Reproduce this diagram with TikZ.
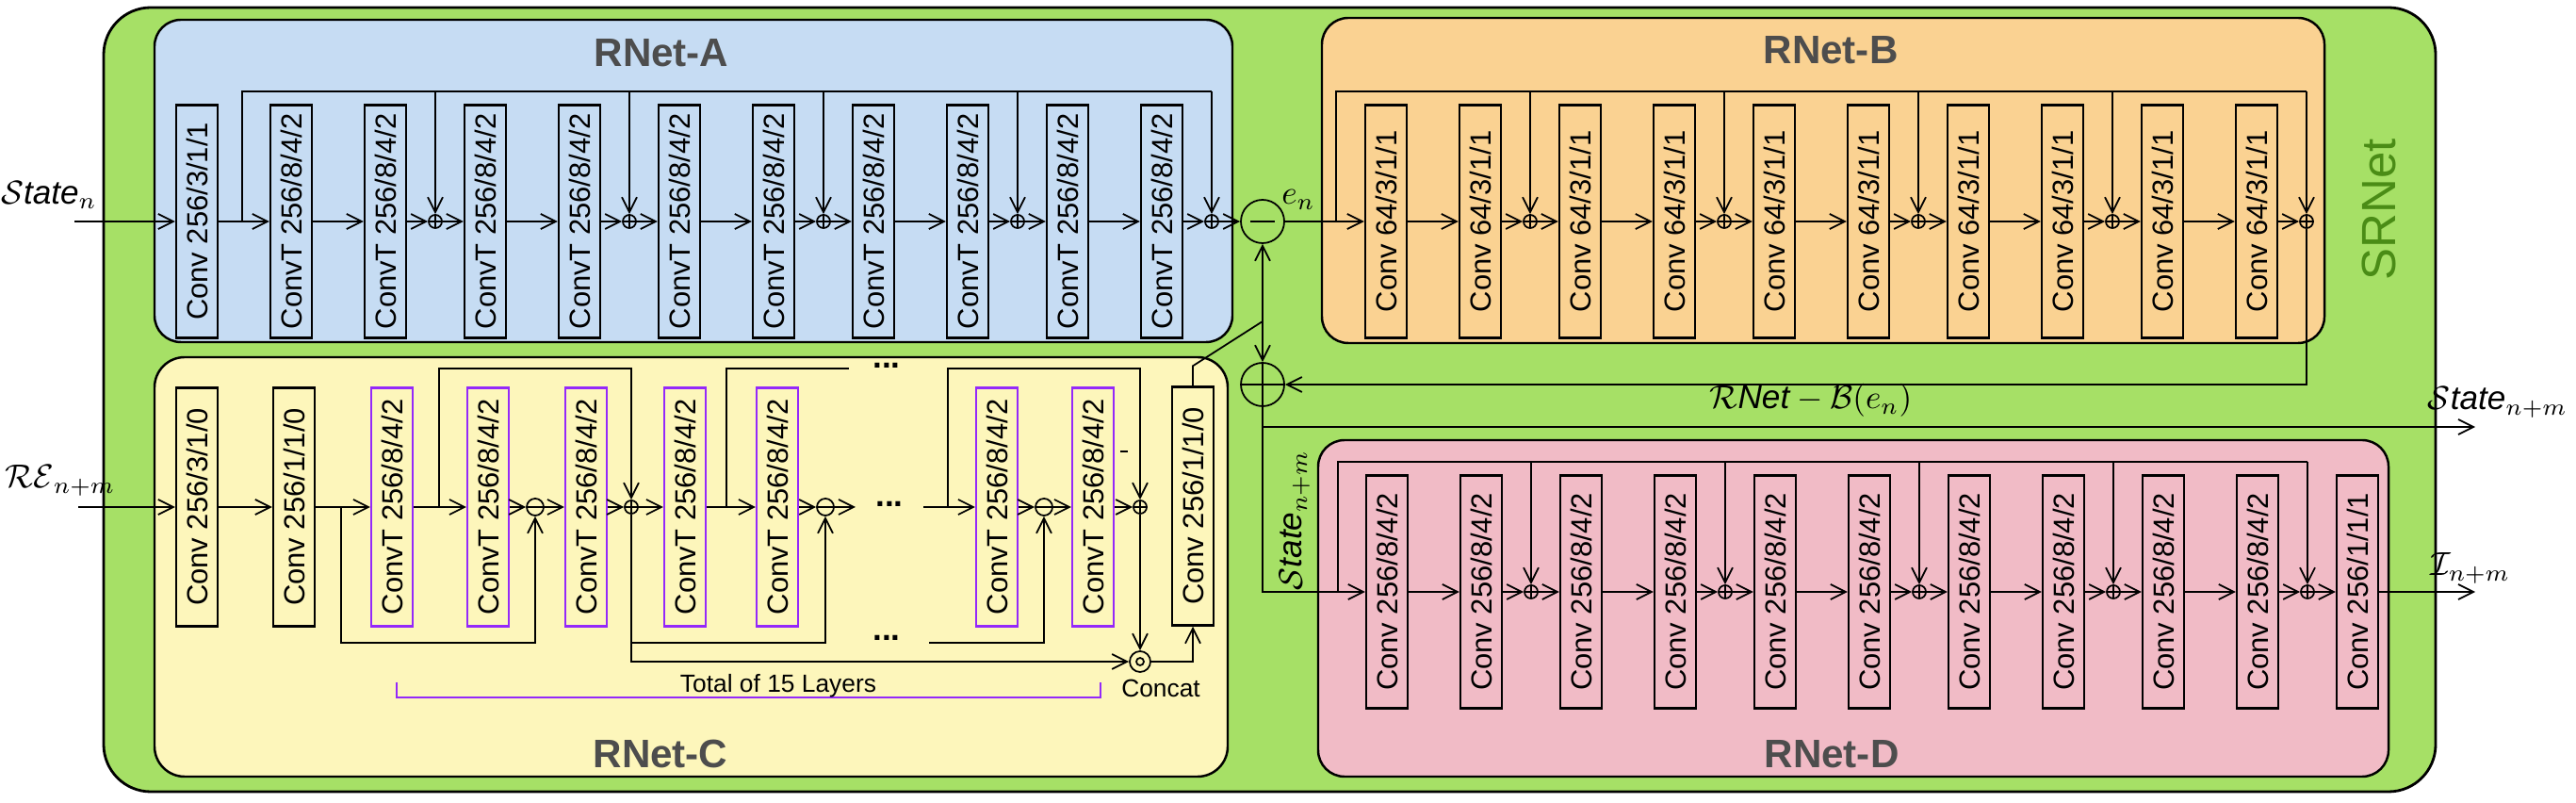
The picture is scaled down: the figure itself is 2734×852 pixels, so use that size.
\documentclass[tikz,border=0pt]{standalone}
\usepackage{fontspec}
\setmainfont{Liberation Sans}
\usetikzlibrary{arrows.meta}
\definecolor{srnetgreen}{RGB}{166,224,102}
\definecolor{srnetlabel}{RGB}{74,140,22}
\definecolor{rnetablue}{RGB}{198,220,243}
\definecolor{rnetborange}{RGB}{250,210,146}
\definecolor{rnetcyellow}{RGB}{253,246,187}
\definecolor{rnetdpink}{RGB}{241,187,198}
\definecolor{titlegray}{RGB}{77,77,77}
\definecolor{convtpurple}{RGB}{148,40,250}

\tikzset{
  convbox/.style={draw, line width=0.7pt, rotate=90, minimum width=24.7mm, minimum height=4.4mm, inner sep=0pt, font=\fontsize{8.8}{10}\selectfont},
  convtbox/.style={convbox, draw=convtpurple, line width=0.6pt, minimum width=25.3mm},
  addop/.style={circle, draw, minimum size=1.4mm, inner sep=0pt, path picture={\draw (path picture bounding box.north) -- (path picture bounding box.south) (path picture bounding box.west) -- (path picture bounding box.east);}},
  subop/.style={circle, draw, minimum size=1.8mm, inner sep=0pt, path picture={\draw (path picture bounding box.west) -- (path picture bounding box.east);}},
  catop/.style={circle, draw, minimum size=2.2mm, inner sep=0pt, path picture={\draw (path picture bounding box.center) circle (0.4mm);}},
  bigsubop/.style={circle, draw, minimum size=4.6mm, inner sep=0pt, path picture={\draw ([xshift=-1.3mm]path picture bounding box.center) -- ([xshift=1.3mm]path picture bounding box.center);}},
  bigaddop/.style={addop, minimum size=4.6mm},
  paneltitle/.style={text=titlegray, font=\fontsize{12}{14}\selectfont\bfseries},
  mathlabel/.style={font=\fontsize{10}{12}\selectfont, inner sep=0pt},
  ellipsisdots/.style={font=\fontsize{10}{12}\selectfont\bfseries, inner sep=0pt},
  smalltext/.style={font=\fontsize{7.5}{9}\selectfont, inner sep=0pt},
}

\begin{document}
\begin{tikzpicture}[x=0.1mm, y=-0.1mm, >={Straight Barb[length=1.6mm,width=1.6mm]}, line width=0.5pt]
  \useasboundingbox (0,0) rectangle (2734,852);

  % SRNet frame
  \draw[fill=srnetgreen, line width=0.8pt, rounded corners=5mm] (110,8) rectangle (2585,840);
  \node[rotate=90, text=srnetlabel, font=\fontsize{14.5}{16}\selectfont] (srnet) at (2525,222) {SRNet};

  % sub-network panels
  \draw[fill=rnetablue, line width=0.7pt, rounded corners=2.8mm] (164,21) rectangle (1308,363);
  \draw[fill=rnetborange, line width=0.7pt, rounded corners=2.8mm] (1403,19) rectangle (2467,364);
  \draw[fill=rnetcyellow, line width=0.7pt, rounded corners=3.2mm] (164,379) rectangle (1303,824);
  \draw[fill=rnetdpink, line width=0.7pt, rounded corners=2.8mm] (1399,467) rectangle (2535,824);
  \node[paneltitle] (titleA) at (702,56) {RNet-A};
  \node[paneltitle] (titleB) at (1943,53) {RNet-B};
  \node[paneltitle] (titleC) at (701,800) {RNet-C};
  \node[paneltitle] (titleD) at (1944,800) {RNet-D};

  % RNet-A
  \coordinate (stateIn) at (79,235);
  \node[mathlabel] (stateInLabel) at (52,207) {$\mathcal{S}\mathit{tate}_n$};
  \node[convbox] (Ain) at (209,235) {Conv 256/3/1/1};
  \foreach \k in {0,...,4} {
    \node[convbox] (A\k-1) at ({309+206*\k},235) {ConvT 256/8/4/2};
    \node[convbox] (A\k-2) at ({409+206*\k},235) {ConvT 256/8/4/2};
    \node[addop] (Aadd\k) at ({462+206*\k},235) {};
    \draw[->] (A\k-1) -- (A\k-2);
    \draw[->] (A\k-2) -- (Aadd\k);
  }
  \draw[->] (stateIn) -- (Ain);
  \draw[->] (Ain) -- (A0-1);
  \foreach \k/\n in {0/1,1/2,2/3,3/4}
    \draw[->] (Aadd\k) -- (A\n-1);
  \coordinate (Abus) at (257,235);
  \coordinate (Atop) at (257,97);
  \draw (Abus) -- (Atop) -- (Atop -| Aadd4);
  \foreach \k in {0,...,4}
    \draw[->] (Atop -| Aadd\k) -- (Aadd\k);

  % error e_n
  \node[bigsubop] (sub) at (1340,235) {};
  \node[mathlabel] (enLabel) at (1378,212) {$e_n$};
  \draw[->] (Aadd4) -- (sub);

  % RNet-B
  \foreach \k in {0,...,4} {
    \node[convbox] (B\k-1) at ({1471+206*\k},235) {Conv 64/3/1/1};
    \node[convbox] (B\k-2) at ({1571+206*\k},235) {Conv 64/3/1/1};
    \node[addop] (Badd\k) at ({1624+206*\k},235) {};
    \draw[->] (B\k-1) -- (B\k-2);
    \draw[->] (B\k-2) -- (Badd\k);
  }
  \draw[->] (sub) -- (B0-1);
  \foreach \k/\n in {0/1,1/2,2/3,3/4}
    \draw[->] (Badd\k) -- (B\n-1);
  \coordinate (Bbus) at (1418,235);
  \coordinate (Btop) at (1418,97);
  \draw (Bbus) -- (Btop) -- (Btop -| Badd4);
  \foreach \k in {0,...,4}
    \draw[->] (Btop -| Badd\k) -- (Badd\k);

  % state update
  \node[bigaddop] (add) at (1340,408) {};
  \draw[->] (Badd4) |- (add);
  \node[mathlabel] (rnetbLabel) at (1922,425) {$\mathcal{R}\mathit{Net}-\mathcal{B}(e_n)$};
  \coordinate (stateBr) at (1340,453);
  \coordinate (stateOut) at (2627,453);
  \draw (add) -- (stateBr);
  \draw[->] (stateBr) -- (stateOut);
  \node[mathlabel] (stateOutLabel) at (2651,427) {$\mathcal{S}\mathit{tate}_{n+m}$};
  \node[mathlabel, rotate=90] (stateMidLabel) at (1374,552) {$\mathcal{S}\mathit{tate}_{n+m}$};

  % RNet-D
  \foreach \k in {0,...,4} {
    \node[convbox] (D\k-1) at ({1472+206*\k},628) {Conv 256/8/4/2};
    \node[convbox] (D\k-2) at ({1572+206*\k},628) {Conv 256/8/4/2};
    \node[addop] (Dadd\k) at ({1625+206*\k},628) {};
    \draw[->] (D\k-1) -- (D\k-2);
    \draw[->] (D\k-2) -- (Dadd\k);
  }
  \node[convbox] (Dout) at (2502,628) {Conv 256/1/1/1};
  \draw[->] (stateBr) |- (D0-1);
  \foreach \k/\n in {0/1,1/2,2/3,3/4}
    \draw[->] (Dadd\k) -- (D\n-1);
  \draw[->] (Dadd4) -- (Dout);
  \coordinate (Dbus) at (1420,628);
  \coordinate (Dtop) at (1420,490);
  \draw (Dbus) -- (Dtop) -- (Dtop -| Dadd4);
  \foreach \k in {0,...,4}
    \draw[->] (Dtop -| Dadd\k) -- (Dadd\k);
  \coordinate (imgOut) at (2627,628);
  \draw[->] (Dout) -- (imgOut);
  \node[mathlabel] (imgOutLabel) at (2622,603) {$\mathcal{I}_{n+m}$};

  % RNet-C
  \coordinate (reIn) at (83,538);
  \node[mathlabel] (reLabel) at (64,510) {$\mathcal{RE}_{n+m}$};
  \node[convbox, minimum width=25.3mm] (C1) at (209,538) {Conv 256/3/1/0};
  \node[convbox, minimum width=25.3mm] (C2) at (312,538) {Conv 256/1/1/0};
  \node[convtbox] (C3) at (416,538) {ConvT 256/8/4/2};
  \node[convtbox] (C4) at (518,538) {ConvT 256/8/4/2};
  \node[subop] (Csub1) at (568,538) {};
  \node[convtbox] (C5) at (622,538) {ConvT 256/8/4/2};
  \node[addop] (Cadd1) at (670,538) {};
  \node[convtbox] (C6) at (727,538) {ConvT 256/8/4/2};
  \node[convtbox] (C7) at (825,538) {ConvT 256/8/4/2};
  \node[subop] (Csub2) at (876,538) {};
  \node[convtbox] (C8) at (1058,538) {ConvT 256/8/4/2};
  \node[subop] (Csub3) at (1108,538) {};
  \node[convtbox] (C9) at (1160,538) {ConvT 256/8/4/2};
  \node[addop] (Cadd2) at (1210,538) {};
  \node[catop] (cat) at (1210,702) {};
  \node[convbox, minimum width=25.3mm] (C10) at (1266,537) {Conv 256/1/1/0};
  \draw[->] (reIn) -- (C1);
  \draw[->] (C1) -- (C2);
  \draw[->] (C2) -- (C3);
  \draw[->] (C3) -- (C4);
  \draw[->] (C4) -- (Csub1);
  \draw[->] (Csub1) -- (C5);
  \draw[->] (C5) -- (Cadd1);
  \draw[->] (Cadd1) -- (C6);
  \draw[->] (C6) -- (C7);
  \draw[->] (C7) -- (Csub2);
  \coordinate (CgapL) at (908,538);
  \coordinate (CgapR) at (980,538);
  \draw[->] (Csub2) -- (CgapL);
  \draw[->] (CgapR) -- (C8);
  \draw[->] (C8) -- (Csub3);
  \draw[->] (Csub3) -- (C9);
  \draw[->] (C9) -- (Cadd2);
  \draw[->] (Cadd2) -- (cat);
  \draw[->] (cat) -| (C10);
  \node[ellipsisdots] (dotsTop) at (941,388) {...};
  \node[ellipsisdots] (dotsRow) at (944,535) {...};
  \node[ellipsisdots] (dotsBot) at (941,677) {...};
  % skip connections
  \coordinate (Ctop) at (0,391);
  \coordinate (Cbot) at (0,682);
  \coordinate (Cskip1) at (466,538);
  \coordinate (Cskip2) at (771,538);
  \coordinate (Cskip2end) at (901,391);
  \coordinate (Cskip3) at (1006,538);
  \draw[->] (Cskip1) -- (Cskip1 |- Ctop) -| (Cadd1);
  \draw (Cskip2) |- (Cskip2end);
  \draw[->] (Cskip3) -- (Cskip3 |- Ctop) -| (Cadd2);
  \coordinate (Cres1) at (362,538);
  \coordinate (Cres3) at (986,682);
  \draw[->] (Cres1) -- (Cres1 |- Cbot) -| (Csub1);
  \draw[->] (Cadd1) |- (cat);
  \draw[->] (Cadd1 |- Cbot) -| (Csub2);
  \draw[->] (Cres3) -| (Csub3);
  \draw (1189,479) -- (1197,479);
  % 15 layer bracket
  \draw[convtpurple, line width=0.6pt] (421,724) |- (1168,740) -- (1168,724);
  \node[smalltext, anchor=base] (totalLabel) at (826,735) {Total of 15 Layers};
  \node[smalltext, anchor=base] (catLabel) at (1232,740) {Concat};

  % RNet-C output to both operators
  \coordinate (split) at (1340,341);
  \draw (C10.east) -- ++(0,-21) -- (split);
  \draw[->] (split) -- (sub);
  \draw[->] (split) -- (add);
\end{tikzpicture}
\end{document}
